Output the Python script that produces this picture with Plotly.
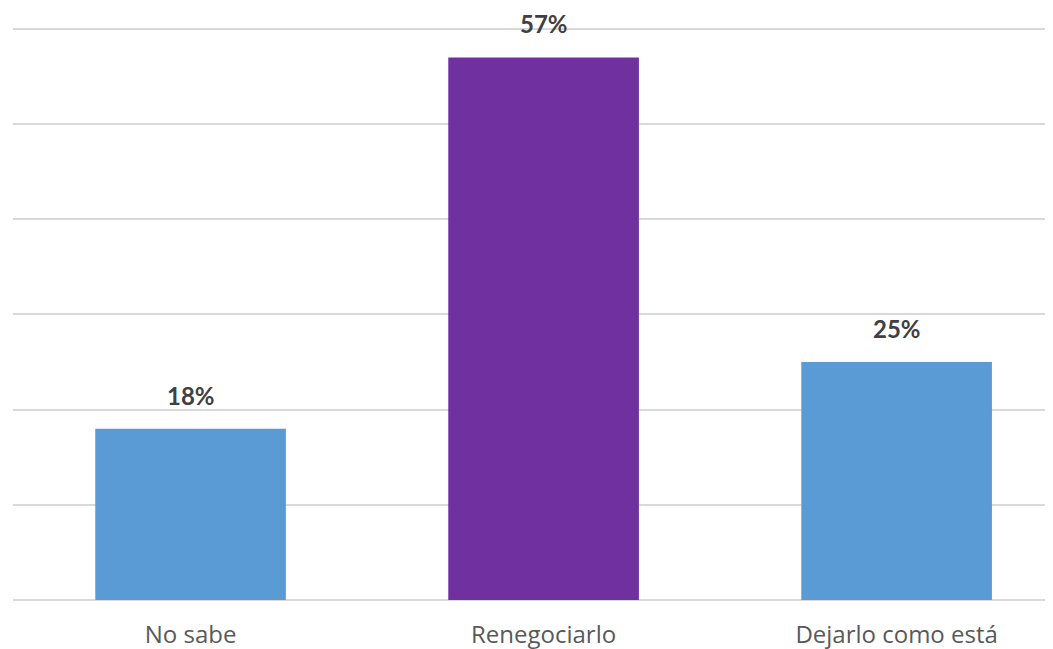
import plotly.graph_objects as go

categories = ["No sabe", "Renegociarlo", "Dejarlo como está"]
values = [18, 57, 25]
labels = ["18%", "57%", "25%"]
colors = ["#5B9BD5", "#7030A0", "#5B9BD5"]

fig = go.Figure()
fig.add_trace(go.Bar(
    x=categories, y=values, width=0.54,
    marker=dict(color=colors, line=dict(width=0)),
    hoverinfo="skip",
))
for c, v, t in zip(categories, values, labels):
    fig.add_annotation(x=c, y=v, text="<b>%s</b>" % t, showarrow=False,
                       yanchor="bottom", yshift=17,
                       font=dict(family="Lato", size=24, color="#404040"))

fig.update_layout(
    width=1045, height=641,
    margin=dict(l=5, r=0, t=0, b=49),
    plot_bgcolor="white", paper_bgcolor="white",
    showlegend=False,
    xaxis=dict(range=[-0.503, 2.443], showgrid=False, zeroline=False,
               showline=False, ticks="", ticklabelstandoff=18,
               tickfont=dict(family="Open Sans", size=24, color="#595959")),
    yaxis=dict(range=[0, 62.2], tickvals=[0, 10, 20, 30, 40, 50, 60],
               showticklabels=False, showgrid=True, gridcolor="#d9d9d9",
               gridwidth=1.5, zeroline=True, zerolinecolor="#d9d9d9",
               zerolinewidth=1.5, showline=False),
)
fig.write_html("out.html")
